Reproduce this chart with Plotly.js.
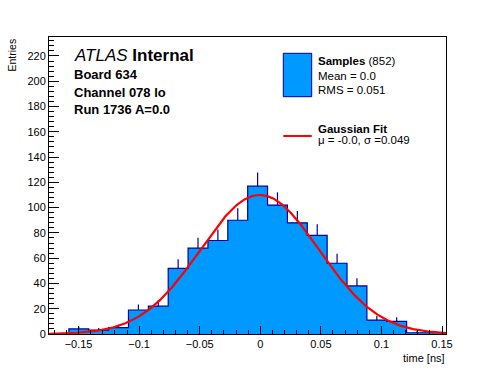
<!DOCTYPE html>
<html>
<head>
<meta charset="utf-8">
<script src="https://cdn.plot.ly/plotly-3.0.1.min.js"></script>
<style>html,body{margin:0;padding:0;background:#fff;}#chart{width:496px;height:372px;}</style>
</head>
<body>
<div id="chart"></div>
<script>
// ---- data ----
const binEdges = [-0.158, -0.1416, -0.1252, -0.1088, -0.0924, -0.076, -0.0596, -0.0432, -0.0268, -0.0104,
                  0.006, 0.0224, 0.0388, 0.0552, 0.0716, 0.088, 0.1044, 0.1208, 0.1372, 0.1536];
const binCounts = [4, 3, 5, 19, 22, 52, 68, 74, 90, 117, 102, 88, 78, 56, 38, 11, 10, 1, 1];
const fitMean = -0.0005;
const fitSigma = 0.049;
const fitAmplitude = 110;
const xRange = [-0.1744, 0.1533];
const yRange = [0, 235];

const BLUE = '#0099ff', NAVY = '#000099', RED = '#ff0000';
const FONT = 'Liberation Sans, Arial, Helvetica, sans-serif';

// step outline of histogram
const stepX = [binEdges[0]], stepY = [0];
for (let i = 0; i < binCounts.length; i++) { stepX.push(binEdges[i]); stepY.push(binCounts[i]); }
stepX.push(binEdges[binEdges.length - 1]); stepY.push(0);

// error bars (upward only, sqrt(N))
const ebX = [], ebY = [], ebE = [], ebZ = [];
for (let i = 0; i < binCounts.length; i++) {
  if (binCounts[i] > 0) {
    ebX.push((binEdges[i] + binEdges[i + 1]) / 2);
    ebY.push(binCounts[i]); ebE.push(Math.sqrt(binCounts[i])); ebZ.push(0);
  }
}

// gaussian fit curve
const gX = [], gY = [];
const nPts = 400;
for (let i = 0; i <= nPts; i++) {
  const x = xRange[0] + (xRange[1] - xRange[0]) * i / nPts;
  gX.push(x);
  gY.push(fitAmplitude * Math.exp(-0.5 * Math.pow((x - fitMean) / fitSigma, 2)));
}

const traces = [
  {x: stepX, y: stepY, type: 'scatter', mode: 'lines', line: {shape: 'hv', color: NAVY, width: 1.2},
   fill: 'tozeroy', fillcolor: BLUE, hoverinfo: 'skip', showlegend: false},
  {x: ebX, y: ebY, type: 'scatter', mode: 'markers', marker: {size: 1, color: 'rgba(0,0,0,0)'},
   error_y: {type: 'data', symmetric: false, array: ebE, arrayminus: ebZ, width: 0, thickness: 1.2, color: NAVY},
   showlegend: false},
  {x: gX, y: gY, type: 'scatter', mode: 'lines', line: {color: RED, width: 2.2}, showlegend: false}
];

const M = {l: 49, r: 50, t: 37, b: 38};
const PW = 496 - M.l - M.r, PH = 372 - M.t - M.b;
function px(x) { return (x - M.l) / PW; }
function py(y) { return (372 - M.b - y) / PH; }

function txt(text, x, y, size, extra) {
  return Object.assign({text: text, xref: 'paper', yref: 'paper', x: px(x), y: py(y),
    xanchor: 'left', yanchor: 'middle', showarrow: false, borderpad: 0,
    font: {family: FONT, size: size, color: '#000'}}, extra || {});
}

const annotations = [
  txt('<i>ATLAS</i> <b>Internal</b>', 73, 55.5, 17),
  txt('<b>Board 634</b>', 73, 74.8, 13),
  txt('<b>Channel 078 lo</b>', 73, 92.2, 13),
  txt('<b>Run 1736 A=0.0</b>', 73, 109.5, 13),
  txt('<b>Samples</b> (852)', 316.5, 61, 11.5),
  txt('Mean = 0.0', 316.5, 76, 11.5),
  txt('RMS = 0.051', 316.5, 90, 11.5),
  txt('<b>Gaussian Fit</b>', 316.5, 128.5, 11.5),
  txt('\u03bc = -0.0, \u03c3 =0.049', 316.5, 140, 11.5),
  txt('time [ns]', 446, 357.5, 11, {xanchor: 'right'}),
  txt('Entries', 12, 38, 10.5, {textangle: -90, xanchor: 'center', yanchor: 'top'})
];

const shapes = [
  {type: 'rect', xref: 'paper', yref: 'paper', x0: px(283.3), x1: px(311.7), y0: py(96.7), y1: py(53.3),
   fillcolor: BLUE, line: {color: NAVY, width: 1}},
  {type: 'line', xref: 'paper', yref: 'paper', x0: px(283.3), x1: px(311.7), y0: py(136), y1: py(136),
   line: {color: RED, width: 2}}
];

const layout = {
  width: 496, height: 372, margin: M,
  paper_bgcolor: '#fff', plot_bgcolor: '#fff',
  font: {family: FONT, size: 11, color: '#000'},
  showlegend: false,
  xaxis: {range: xRange, showgrid: false, zeroline: false, showline: true, mirror: true,
    linecolor: '#000', linewidth: 1, ticks: 'inside', ticklen: 8, tickcolor: '#000', tickwidth: 1,
    tick0: 0, dtick: 0.05, tickfont: {size: 11},
    minor: {ticks: 'inside', ticklen: 4, dtick: 0.01, tick0: 0, tickcolor: '#000', showgrid: false}},
  yaxis: {range: yRange, showgrid: false, zeroline: false, showline: true, mirror: true,
    linecolor: '#000', linewidth: 1, ticks: 'inside', ticklen: 10, tickcolor: '#000', tickwidth: 1,
    tick0: 0, dtick: 20, tickfont: {size: 11},
    minor: {ticks: 'inside', ticklen: 5, dtick: 4, tick0: 0, tickcolor: '#000', showgrid: false}},
  annotations: annotations,
  shapes: shapes
};

Plotly.newPlot('chart', traces, layout, {staticPlot: true, displayModeBar: false});
</script>
</body>
</html>
